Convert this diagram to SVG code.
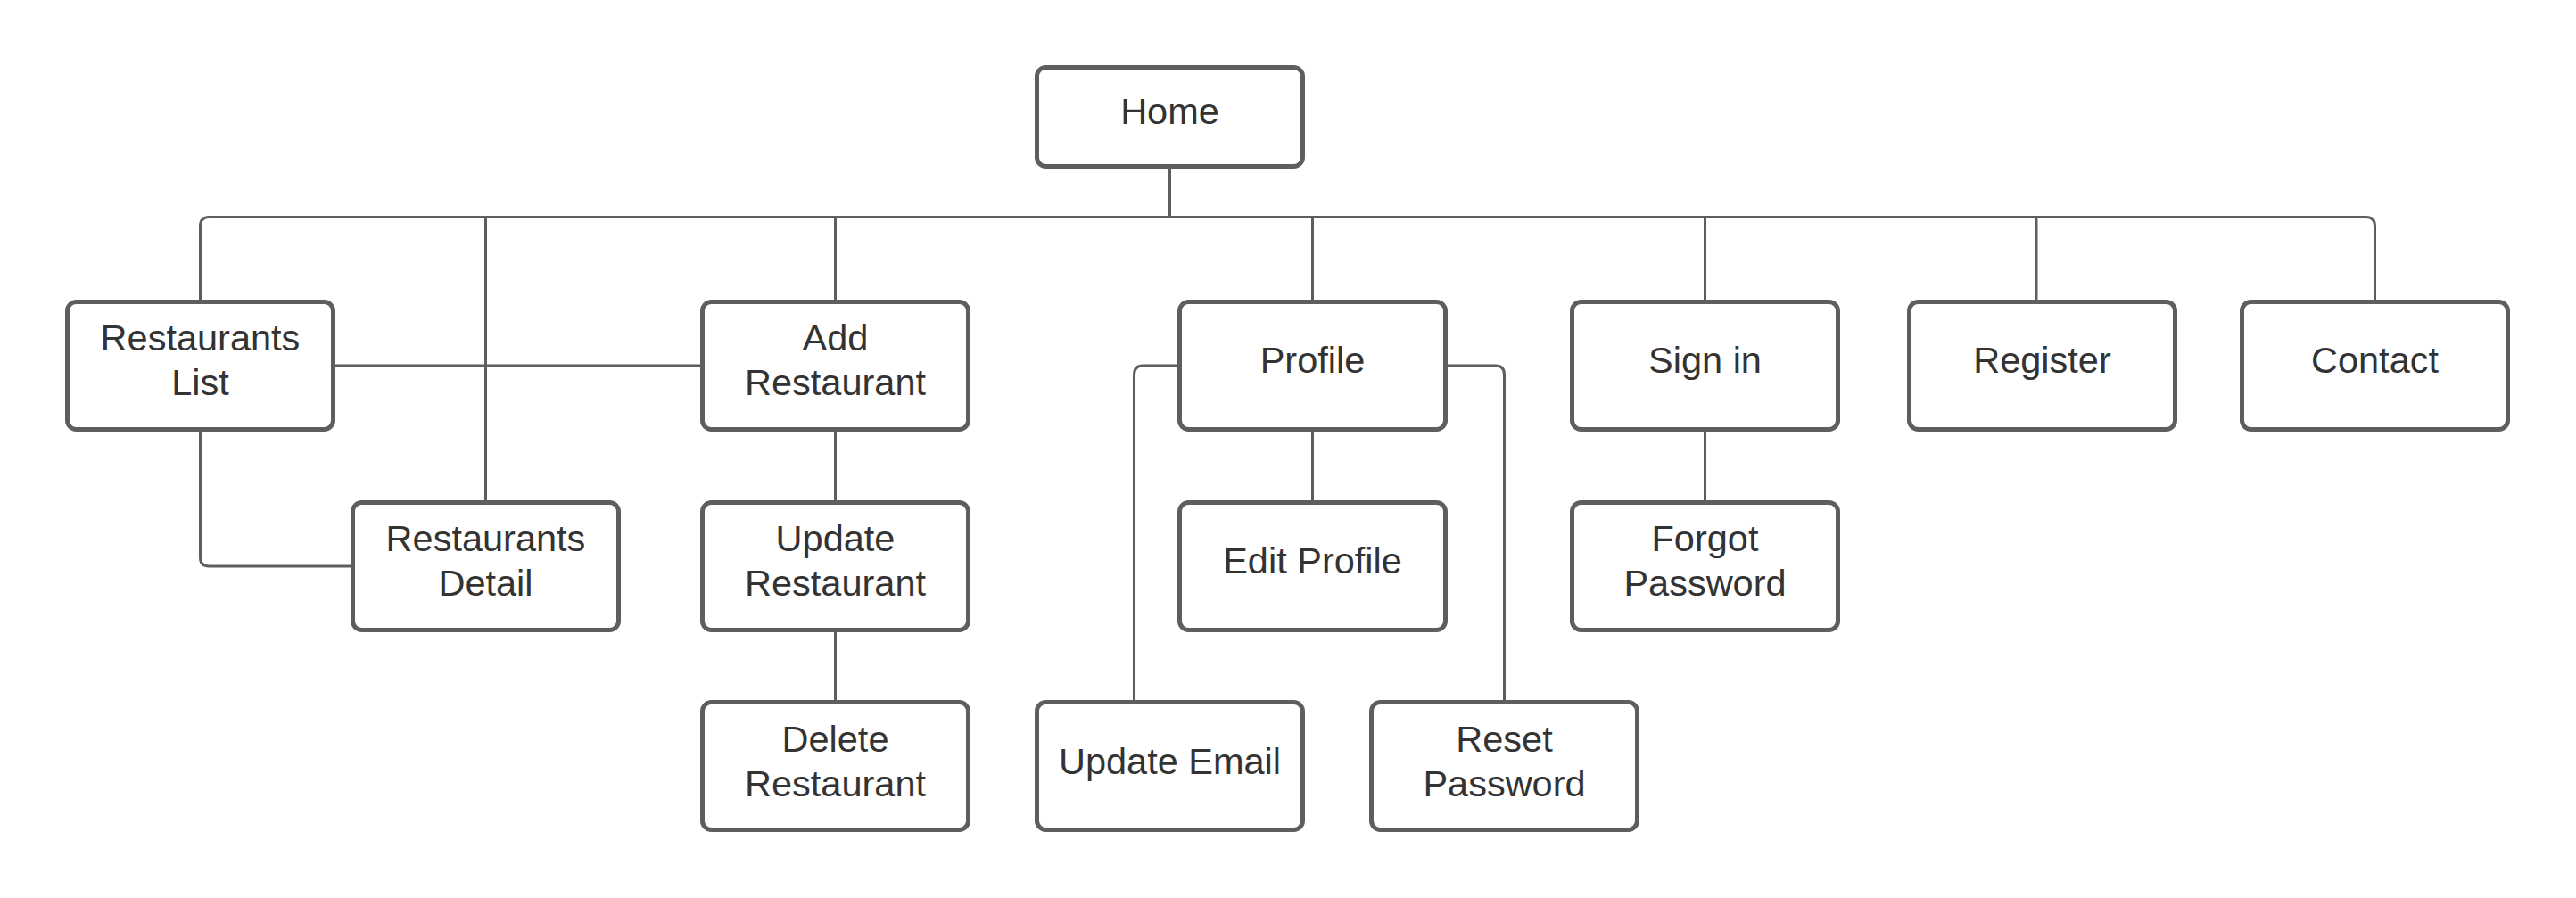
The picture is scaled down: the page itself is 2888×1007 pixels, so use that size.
<svg xmlns="http://www.w3.org/2000/svg" width="2888" height="1007" viewBox="0 0 2888 1007">
<style>
.box{fill:#ffffff;stroke:#5e5e5e;stroke-width:5}
.lbl{font-family:"Liberation Sans",Arial,sans-serif;font-size:41.5px;fill:#333333;text-anchor:middle}
.con{fill:none;stroke:#5e5e5e;stroke-width:3}
</style>
<rect x="0" y="0" width="2888" height="1007" fill="#ffffff"/>
<g id="connectors">
<path class="con" d="M1311.5,189 V243.5"/>
<path class="con" d="M224.5,336 V253.5 Q224.5,243.5 234.5,243.5 H2652.5 Q2662.5,243.5 2662.5,253.5 V336"/>
<path class="con" d="M544.5,243.5 V561"/>
<path class="con" d="M936.5,243.5 V336"/>
<path class="con" d="M1471.5,243.5 V336"/>
<path class="con" d="M1911.5,243.5 V336"/>
<path class="con" d="M2283,243.5 V336"/>
<path class="con" d="M376,410 H785"/>
<path class="con" d="M224.5,484 V625 Q224.5,635 234.5,635 H393"/>
<path class="con" d="M936.5,484 V561"/>
<path class="con" d="M936.5,709 V785"/>
<path class="con" d="M1320,410 H1281.5 Q1271.5,410 1271.5,420 V785"/>
<path class="con" d="M1623,410 H1676.5 Q1686.5,410 1686.5,420 V785"/>
<path class="con" d="M1471.5,484 V561"/>
<path class="con" d="M1911.5,484 V561"/>
</g>
<g id="home"><rect class="box" x="1162.5" y="75.5" width="298" height="111" rx="10"/><text class="lbl" x="1311.5" y="139">Home</text></g>
<g id="restaurants-list"><rect class="box" x="75.5" y="338.5" width="298" height="143" rx="10"/><text class="lbl" x="224.5" y="393">Restaurants</text><text class="lbl" x="224.5" y="443">List</text></g>
<g id="add-restaurant"><rect class="box" x="787.5" y="338.5" width="298" height="143" rx="10"/><text class="lbl" x="936.5" y="393">Add</text><text class="lbl" x="936.5" y="443">Restaurant</text></g>
<g id="profile"><rect class="box" x="1322.5" y="338.5" width="298" height="143" rx="10"/><text class="lbl" x="1471.5" y="418">Profile</text></g>
<g id="sign-in"><rect class="box" x="1762.5" y="338.5" width="298" height="143" rx="10"/><text class="lbl" x="1911.5" y="418">Sign in</text></g>
<g id="register"><rect class="box" x="2140.5" y="338.5" width="298" height="143" rx="10"/><text class="lbl" x="2289.5" y="418">Register</text></g>
<g id="contact"><rect class="box" x="2513.5" y="338.5" width="298" height="143" rx="10"/><text class="lbl" x="2662.5" y="418">Contact</text></g>
<g id="restaurants-detail"><rect class="box" x="395.5" y="563.5" width="298" height="143" rx="10"/><text class="lbl" x="544.5" y="618">Restaurants</text><text class="lbl" x="544.5" y="668">Detail</text></g>
<g id="update-restaurant"><rect class="box" x="787.5" y="563.5" width="298" height="143" rx="10"/><text class="lbl" x="936.5" y="618">Update</text><text class="lbl" x="936.5" y="668">Restaurant</text></g>
<g id="edit-profile"><rect class="box" x="1322.5" y="563.5" width="298" height="143" rx="10"/><text class="lbl" x="1471.5" y="643">Edit Profile</text></g>
<g id="forgot-password"><rect class="box" x="1762.5" y="563.5" width="298" height="143" rx="10"/><text class="lbl" x="1911.5" y="618">Forgot</text><text class="lbl" x="1911.5" y="668">Password</text></g>
<g id="delete-restaurant"><rect class="box" x="787.5" y="787.5" width="298" height="143" rx="10"/><text class="lbl" x="936.5" y="843">Delete</text><text class="lbl" x="936.5" y="893">Restaurant</text></g>
<g id="update-email"><rect class="box" x="1162.5" y="787.5" width="298" height="143" rx="10"/><text class="lbl" x="1311.5" y="868">Update Email</text></g>
<g id="reset-password"><rect class="box" x="1537.5" y="787.5" width="298" height="143" rx="10"/><text class="lbl" x="1686.5" y="843">Reset</text><text class="lbl" x="1686.5" y="893">Password</text></g>
</svg>
